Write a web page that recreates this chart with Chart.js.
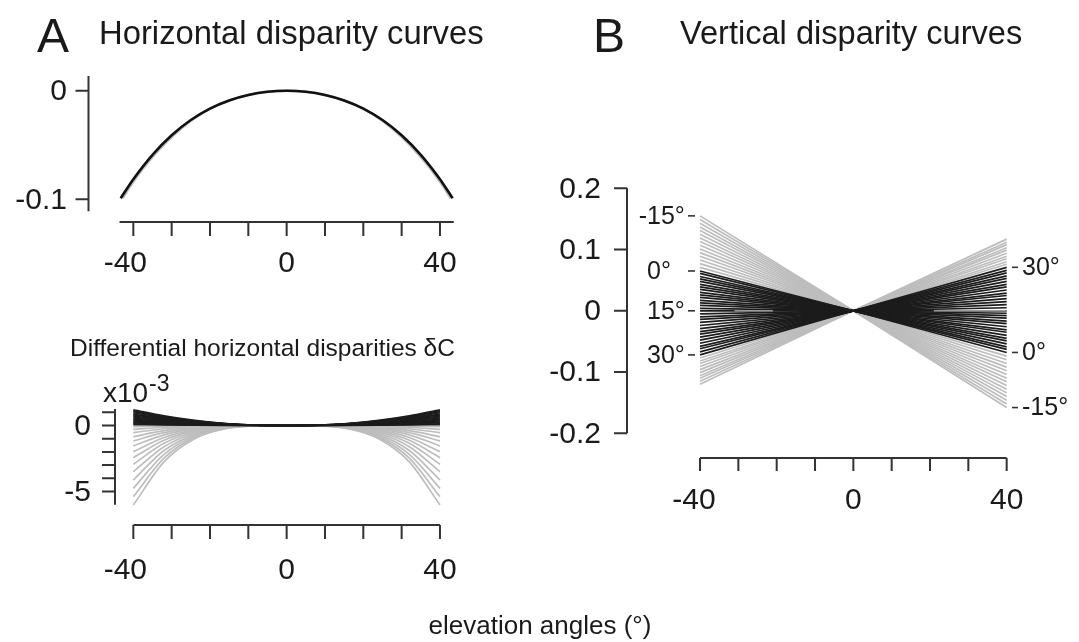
<!DOCTYPE html>
<html>
<head>
<meta charset="utf-8">
<script src="https://cdn.jsdelivr.net/npm/chart.js@4.4.1/dist/chart.umd.min.js"></script>
<style>
  body { margin: 0; background: #fff; }
  #wrap { position: relative; width: 1079px; height: 642px; overflow: hidden;
          font-family: "Liberation Sans", Arial, sans-serif; color: #1a1a1a; }
  canvas { position: absolute; left: 0; top: 0; }
  .t { position: absolute; white-space: nowrap; line-height: 1; }
</style>
</head>
<body>
<div id="wrap">
  <canvas id="cTop" width="1079" height="642"></canvas>
  <canvas id="cDiff" width="1079" height="642"></canvas>
  <canvas id="cVert" width="1079" height="642"></canvas>

  <div class="t" style="left:37px;top:12px;font-size:48px">A</div>
  <div class="t" style="left:99px;top:17px;font-size:32.8px">Horizontal disparity curves</div>
  <div class="t" style="left:593px;top:12px;font-size:48px">B</div>
  <div class="t" style="left:680px;top:17px;font-size:32.6px">Vertical disparity curves</div>
  <div class="t" style="left:70px;top:336px;font-size:24.5px">Differential horizontal disparities &delta;C</div>
  <div class="t" style="left:103px;top:379px;font-size:28px">x10</div>
  <div class="t" style="left:149px;top:372px;font-size:23px">-3</div>
  <div class="t" style="left:540px;top:612px;font-size:26px;transform:translateX(-50%)">elevation angles (°)</div>
</div>

<script>
// ---- A, top: horizontal disparity curves
const hdBlackX = [-43.3, -40, -35, -30, -25, -20, -15, -10, -5, 0, 5, 10, 15, 20, 25, 30, 35, 40, 43.3];
const hdBlackY = [-0.099, -0.0815, -0.059, -0.041, -0.027, -0.0165, -0.009, -0.004, -0.001, 0,
                  -0.001, -0.004, -0.009, -0.0165, -0.027, -0.041, -0.059, -0.0815, -0.099];
const hdGrayX = [-42.8, -40, -35, -30, -25, -20, -15, -10, -5, 0, 5, 10, 15, 20, 25, 30, 35, 40, 42.8];
const hdGrayY = [-0.099, -0.0835, -0.061, -0.0425, -0.0276, -0.0165, -0.009, -0.004, -0.001, 0,
                 -0.001, -0.004, -0.009, -0.0165, -0.0276, -0.0425, -0.061, -0.0835, -0.099];
const topXTicks = [-40, -30, -20, -10, 0, 10, 20, 30, 40];
const topXLabels = [-40, 0, 40];
const topYTicks = [0, -0.1];
const topYLabels = ['0', '-0.1'];

// ---- A, bottom: differential horizontal disparities (x10^-3)
// values at |elevation| = 8, 16, 24, 32, 40 (curves are symmetric about 0)
const dhOffsets = [8, 16, 24, 32, 40];
const dhGrayHalf = [
  [0, -0.004, -0.015, -0.041, -0.09],
  [-0.001, -0.012, -0.048, -0.133, -0.29],
  [-0.002, -0.022, -0.09, -0.247, -0.54],
  [-0.003, -0.034, -0.142, -0.389, -0.85],
  [-0.004, -0.047, -0.195, -0.536, -1.17],
  [-0.006, -0.063, -0.259, -0.71, -1.55],
  [-0.007, -0.08, -0.331, -0.907, -1.98],
  [-0.009, -0.099, -0.407, -1.118, -2.44],
  [-0.011, -0.119, -0.491, -1.347, -2.94],
  [-0.013, -0.142, -0.585, -1.603, -3.5],
  [-0.015, -0.167, -0.69, -1.892, -4.13],
  [-0.017, -0.193, -0.795, -2.18, -4.76],
  [-0.019, -0.218, -0.9, -2.469, -5.39],
  [-0.022, -0.244, -1.005, -2.757, -6.02]
];
const dhBlackHalf = [
  [0.035, 0.16, 0.39, 0.734, 1.2],
  [0.032, 0.149, 0.364, 0.685, 1.12],
  [0.03, 0.138, 0.338, 0.636, 1.04],
  [0.028, 0.128, 0.312, 0.588, 0.96],
  [0.026, 0.117, 0.286, 0.539, 0.88],
  [0.023, 0.106, 0.26, 0.49, 0.8],
  [0.021, 0.096, 0.234, 0.441, 0.72],
  [0.019, 0.085, 0.208, 0.392, 0.64],
  [0.016, 0.074, 0.182, 0.343, 0.56],
  [0.014, 0.064, 0.156, 0.294, 0.48],
  [0.012, 0.055, 0.133, 0.251, 0.41],
  [0.01, 0.045, 0.111, 0.208, 0.34],
  [0.008, 0.036, 0.088, 0.165, 0.27],
  [0.006, 0.027, 0.065, 0.122, 0.2],
  [0.004, 0.017, 0.042, 0.08, 0.13],
  [0.002, 0.008, 0.02, 0.037, 0.06]
];
const diffXTicks = [-40, -30, -20, -10, 0, 10, 20, 30, 40];
const diffXLabels = [-40, 0, 40];
const diffYTicks = [1, 0, -1, -2, -3, -4, -5];
const diffYLabels = ['0', '-5'];

// ---- B: vertical disparity curves, one line per fixation angle
const vdAngles = [-15, -14, -13, -12, -11, -10, -9, -8, -7, -6, -5, -4, -3, -2, -1,
  0, 1, 2, 3, 4, 5, 6, 7, 8, 9, 10, 11, 12, 13, 14, 15,
  16, 17, 18, 19, 20, 21, 22, 23, 24, 25, 26, 27, 28, 29, 30,
  31, 32, 33, 34, 35, 36, 37, 38, 39, 40];
const vdLeft = [0.155, 0.149, 0.143, 0.137, 0.131, 0.125, 0.119, 0.113, 0.107, 0.101, 0.095, 0.089, 0.083, 0.077, 0.071,
  0.065, 0.061, 0.056, 0.052, 0.048, 0.043, 0.039, 0.035, 0.030, 0.026, 0.022, 0.017, 0.013, 0.009, 0.004, 0.000,
  -0.005, -0.010, -0.014, -0.019, -0.024, -0.029, -0.034, -0.038, -0.043, -0.048, -0.053, -0.058, -0.062, -0.067, -0.072,
  -0.077, -0.082, -0.086, -0.091, -0.096, -0.101, -0.106, -0.110, -0.115, -0.120];
const vdRight = [-0.158, -0.152, -0.146, -0.140, -0.134, -0.128, -0.122, -0.116, -0.110, -0.104, -0.098, -0.092, -0.086, -0.080, -0.074,
  -0.068, -0.063, -0.059, -0.054, -0.049, -0.045, -0.040, -0.035, -0.031, -0.026, -0.021, -0.017, -0.012, -0.008, -0.004, 0.000,
  0.005, 0.010, 0.015, 0.020, 0.025, 0.029, 0.034, 0.039, 0.043, 0.048, 0.053, 0.057, 0.062, 0.066, 0.071,
  0.076, 0.080, 0.085, 0.089, 0.094, 0.099, 0.103, 0.108, 0.112, 0.117];
const vdBlackFrom = 0, vdBlackTo = 30;
const vdGrayMarkLeft = [-31, -21];
const vdGrayMarkRight = [21, 40];
const vdLeftLabelAngles = [-15, 0, 15, 30];
const vdRightLabelAngles = [30, 0, -15];
const vertXTicks = [-40, -30, -20, -10, 0, 10, 20, 30, 40];
const vertXLabels = [-40, 0, 40];
const vertYTicks = [0.2, 0.1, 0, -0.1, -0.2];
const vertYLabels = ['0.2', '0.1', '0', '-0.1', '-0.2'];

const GRAY = '#bdbdbd';
const BLACK = '#1c1c1c';
const AXIS = '#333';
const FONT = '"Liberation Sans", Arial, sans-serif';

function pts(xs, ys) { return xs.map((x, i) => ({x: x, y: ys[i]})); }

function symCurve(half) {
  let d = [];
  for (let i = dhOffsets.length - 1; i >= 0; i--) d.push({x: -dhOffsets[i], y: half[i]});
  d.push({x: 0, y: 0});
  dhOffsets.forEach((o, i) => d.push({x: o, y: half[i]}));
  return d;
}

// R-style axes drawn apart from the plot region
function makeAxes(cfg) {
  return {
    id: 'rAxes',
    afterDraw(chart) {
      const ctx = chart.ctx, xs = chart.scales.x, ys = chart.scales.y;
      ctx.save();
      ctx.strokeStyle = AXIS;
      ctx.fillStyle = '#1a1a1a';
      ctx.lineWidth = 2;
      const a = cfg.x;
      ctx.beginPath();
      ctx.moveTo(xs.getPixelForValue(a.from), a.at);
      ctx.lineTo(xs.getPixelForValue(a.to), a.at);
      a.ticks.forEach(v => {
        const p = xs.getPixelForValue(v);
        ctx.moveTo(p, a.at); ctx.lineTo(p, a.at + a.len);
      });
      ctx.stroke();
      ctx.font = a.font + 'px ' + FONT;
      ctx.textAlign = 'center';
      ctx.textBaseline = 'middle';
      a.labels.forEach(v => {
        ctx.fillText(String(v), xs.getPixelForValue(v) + (v < 0 ? a.negShift : 0), a.labelAt);
      });
      const b = cfg.y;
      ctx.beginPath();
      ctx.moveTo(b.at, ys.getPixelForValue(b.from));
      ctx.lineTo(b.at, ys.getPixelForValue(b.to));
      b.ticks.forEach(v => {
        const p = ys.getPixelForValue(v);
        ctx.moveTo(b.at, p); ctx.lineTo(b.at - b.len, p);
      });
      ctx.stroke();
      ctx.font = b.font + 'px ' + FONT;
      ctx.textAlign = 'right';
      b.labels.forEach(t => {
        ctx.fillText(t, b.labelAt, ys.getPixelForValue(parseFloat(t)) + 1);
      });
      if (cfg.extra) cfg.extra(chart, ctx);
      ctx.restore();
    }
  };
}

function baseOptions(area, xr, yr) {
  return {
    responsive: false,
    animation: false,
    devicePixelRatio: 1,
    layout: {padding: {left: area[0], right: 1079 - area[1], top: area[2], bottom: 642 - area[3]}},
    plugins: {legend: {display: false}, tooltip: {enabled: false}},
    elements: {point: {radius: 0}, line: {borderCapStyle: 'butt'}},
    scales: {
      x: {type: 'linear', min: xr[0], max: xr[1], display: false},
      y: {type: 'linear', min: yr[0], max: yr[1], display: false}
    }
  };
}

// Chart.js paints the first dataset on top, so black sets are listed first

// ---- top-left chart
new Chart(document.getElementById('cTop'), {
  type: 'line',
  data: {datasets: [
    {data: pts(hdBlackX, hdBlackY), borderColor: '#111', borderWidth: 2.6, cubicInterpolationMode: 'monotone', clip: false},
    {data: pts(hdGrayX, hdGrayY), borderColor: GRAY, borderWidth: 2.6, cubicInterpolationMode: 'monotone', clip: false}
  ]},
  options: baseOptions([118.0, 455.3, 90.7, 199.3], [-44, 44], [-0.1, 0]),
  plugins: [makeAxes({
    x: {at: 222, from: -43.6, to: 43.6, ticks: topXTicks, labels: topXLabels, len: 14, font: 30, labelAt: 264, negShift: -8},
    y: {at: 88.5, from: 0.0135, to: -0.111, ticks: topYTicks, labels: topYLabels, len: 13, font: 30, labelAt: 67}
  })]
});

// ---- bottom-left chart
const diffSets = [];
dhBlackHalf.forEach(h => diffSets.push({data: symCurve(h), borderColor: BLACK, borderWidth: 1.5, cubicInterpolationMode: 'monotone', clip: false}));
dhGrayHalf.forEach(h => diffSets.push({data: symCurve(h), borderColor: GRAY, borderWidth: 1.7, cubicInterpolationMode: 'monotone', clip: false}));
new Chart(document.getElementById('cDiff'), {
  type: 'line',
  data: {datasets: diffSets},
  options: baseOptions([118.0, 455.3, 412.3, 504.7], [-44, 44], [-6, 1]),
  plugins: [makeAxes({
    x: {at: 525, from: -40, to: 40, ticks: diffXTicks, labels: diffXLabels, len: 14, font: 30, labelAt: 571, negShift: -8},
    y: {at: 115, from: 1.25, to: -6.0, ticks: diffYTicks, labels: diffYLabels, len: 13, font: 30, labelAt: 91}
  })]
});

// ---- right chart
const vertGray = [], vertBlack = [];
vdAngles.forEach((a, i) => {
  const ds = {data: [{x: -40, y: vdLeft[i]}, {x: 0, y: 0}, {x: 40, y: vdRight[i]}], borderWidth: 1.7, clip: false};
  if (a >= vdBlackFrom && a <= vdBlackTo) { ds.borderColor = BLACK; vertBlack.push(ds); }
  else { ds.borderColor = GRAY; vertGray.push(ds); }
});
const vertMarks = [vdGrayMarkLeft, vdGrayMarkRight].map(m => (
  {data: [{x: m[0], y: 0}, {x: m[1], y: 0}], borderColor: '#9a9a9a', borderWidth: 1.5, clip: false}
));

function angleLabels(chart, ctx) {
  const ys = chart.scales.y;
  ctx.font = '25px ' + FONT;
  ctx.textBaseline = 'middle';
  ctx.lineWidth = 1.6;
  ctx.strokeStyle = AXIS;
  const dashW = ctx.measureText('-').width;
  vdLeftLabelAngles.forEach(a => {
    const y = ys.getPixelForValue(vdLeft[vdAngles.indexOf(a)]);
    ctx.beginPath(); ctx.moveTo(688, y); ctx.lineTo(695, y); ctx.stroke();
    ctx.textAlign = 'left';
    ctx.fillText(a + '°', 647 - (a < 0 ? dashW : 0), y + 1);
  });
  vdRightLabelAngles.forEach(a => {
    const y = ys.getPixelForValue(vdRight[vdAngles.indexOf(a)]);
    ctx.beginPath(); ctx.moveTo(1012, y); ctx.lineTo(1018, y); ctx.stroke();
    ctx.textAlign = 'left';
    ctx.fillText(a + '°', 1022, y + 1);
  });
}

new Chart(document.getElementById('cVert'), {
  type: 'line',
  data: {datasets: vertMarks.concat(vertBlack, vertGray)},
  options: baseOptions([684.7, 1022.0, 188.3, 433.3], [-44, 44], [-0.2, 0.2]),
  plugins: [makeAxes({
    x: {at: 458, from: -40, to: 40, ticks: vertXTicks, labels: vertXLabels, len: 13, font: 30, labelAt: 501, negShift: -6},
    y: {at: 627, from: 0.2, to: -0.2, ticks: vertYTicks, labels: vertYLabels, len: 13, font: 30, labelAt: 601},
    extra: angleLabels
  })]
});
</script>
</body>
</html>
